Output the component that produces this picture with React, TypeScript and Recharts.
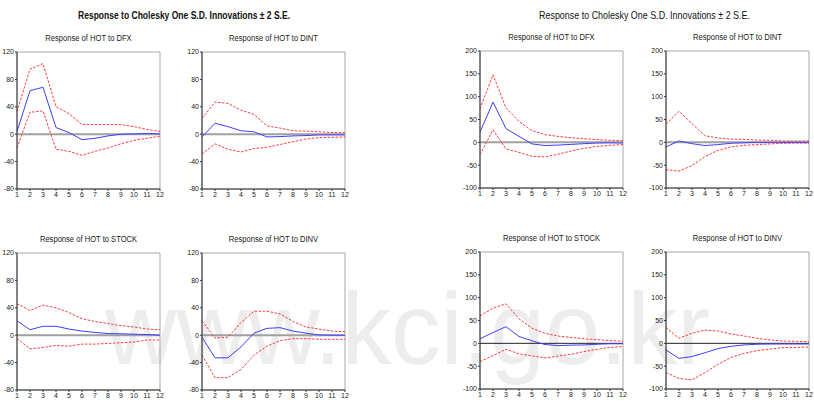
import { LineChart, Line, XAxis, YAxis, ReferenceLine, ReferenceArea } from 'recharts';

const periods = [1, 2, 3, 4, 5, 6, 7, 8, 9, 10, 11, 12];
const leftTicks = [-80, -40, 0, 40, 80, 120];
const rightTicks = [-100, -50, 0, 50, 100, 150, 200];

const mainTitle = 'Response to Cholesky One S.D. Innovations \u00b1 2 S.E.';

// left block
const leftDfx = [4, 63.6, 68.5, 9.7, 2.4, -8, -6, -2.5, 0, 0.5, 1, 0.5];
const leftDfxUpper = [33, 95, 103, 40, 30, 14, 14, 14, 14, 11, 7, 4];
const leftDfxLower = [-20, 32, 34, -22, -25, -31, -25, -20, -14, -9, -6, -3];

const leftDint = [-4, 16, 11, 5, 3.5, -4, -3.5, -2.5, -2, -1, -1, -1];
const leftDintUpper = [23, 47, 45, 35, 29, 12, 9, 5, 4.5, 3.5, 2.5, 2];
const leftDintLower = [-29, -14, -22, -26, -21, -19, -15, -11, -7, -5, -4.5, -4];

const leftStock = [21, 8, 13, 13, 9, 6, 4, 2.5, 2, 1.5, 1, 0];
const leftStockUpper = [46, 36, 44, 40, 33, 24, 20, 17, 14, 12, 9, 8];
const leftStockLower = [-5, -20, -18, -15, -16, -13, -13, -12, -11, -10, -7, -7];

const leftDinv = [-3, -33, -33, -17, 3, 10, 11, 6, 3, 0.5, 0, 0];
const leftDinvUpper = [21, -4, -3, 18.5, 35, 35, 31, 20, 12, 9, 6, 5];
const leftDinvLower = [-29, -62, -62, -50, -29, -16, -8, -5, -5, -6, -6, -6];

// right block
const rightDfx = [22.5, 88, 30, 13, -3.5, -7, -6, -4.5, -3, -1.5, -1, -1.5];
const rightDfxUpper = [73.5, 148, 75, 46, 25.5, 17, 13, 10, 8, 6, 4.5, 3.5];
const rightDfxLower = [-27, 27.5, -14.5, -22, -30.5, -32, -26, -19, -13, -9, -6.5, -5];

const rightDint = [-10, 3, -3, -7, -5, -2, -1, 0, 0, 0, 0, 0];
const rightDintUpper = [40, 68, 41, 14.5, 9.5, 7, 6.5, 5, 4.5, 3, 3, 3];
const rightDintLower = [-60, -63, -51, -31, -17.5, -10, -6.5, -5, -3.5, -2, -1.5, -1.5];

const rightStock = [10, 23.5, 36.5, 15, 5.5, -2.5, -5, -4, -3.5, -2, -1, -1];
const rightStockUpper = [60, 77, 86.5, 54, 33, 22, 16, 13, 10, 8, 6, 4.5];
const rightStockLower = [-40, -27, -13, -23, -27.5, -32, -28, -24, -18, -13, -9, -7];

const rightDinv = [-14.5, -33, -29, -20.5, -11.5, -6.5, -3.5, -2, -1.5, -1.5, -1.5, -1.5];
const rightDinvUpper = [34.5, 11, 22, 29, 27, 20.5, 16, 11, 7.5, 5, 4.5, 3.5];
const rightDinvLower = [-64, -77, -80, -64, -46, -31, -22, -16, -12.5, -9.5, -9, -8];

const PLOT_W = 143;
const PLOT_H = 137;
const ML = 30;
const MT = 6;
const MR = 6;
const MB = 16;

interface PanelProps {
  x: number;
  y: number;
  title: string;
  ticks: number[];
  mid: number[];
  upper: number[];
  lower: number[];
  darkZero?: boolean;
}

function Panel({ x, y, ticks, mid, upper, lower, darkZero }: PanelProps) {
  const data = periods.map((p, i) => ({ p, mid: mid[i], up: upper[i], lo: lower[i] }));
  const yMin = ticks[0];
  const yMax = ticks[ticks.length - 1];
  return (
    <div style={{ position: 'absolute', left: x - ML, top: y - MT }}>
      <LineChart width={ML + PLOT_W + MR} height={MT + PLOT_H + MB} data={data} margin={{ top: MT, right: MR, bottom: 0, left: 0 }}>
        <ReferenceArea x1={1} x2={12} y1={yMin} y2={yMax} fill="none" stroke="#a8a8a8" strokeWidth={1} />
        <XAxis
          dataKey="p"
          type="number"
          domain={[1, 12]}
          ticks={periods}
          interval={0}
          height={MB}
          tick={{ fontSize: 7, fill: '#222' }}
          tickSize={2}
          tickMargin={1}
          axisLine={{ stroke: '#333' }}
          tickLine={{ stroke: '#333' }}
        />
        <YAxis
          type="number"
          domain={[yMin, yMax]}
          ticks={ticks}
          interval={0}
          width={ML}
          tick={{ fontSize: 7, fill: '#222' }}
          tickSize={2}
          tickMargin={1}
          axisLine={{ stroke: '#333' }}
          tickLine={{ stroke: '#333' }}
        />
        <ReferenceLine y={0} stroke={darkZero ? '#222' : '#a0a0a0'} strokeWidth={darkZero ? 1 : 2} />
        <Line dataKey="up" stroke="#ff3b3b" strokeWidth={1} strokeDasharray="2.5 1.5" dot={false} isAnimationActive={false} />
        <Line dataKey="lo" stroke="#ff3b3b" strokeWidth={1} strokeDasharray="2.5 1.5" dot={false} isAnimationActive={false} />
        <Line dataKey="mid" stroke="#4040ff" strokeWidth={1} dot={false} isAnimationActive={false} />
      </LineChart>
    </div>
  );
}

const panels: PanelProps[] = [
  { x: 17, y: 52, title: 'Response of HOT to DFX', ticks: leftTicks, mid: leftDfx, upper: leftDfxUpper, lower: leftDfxLower },
  { x: 202, y: 52, title: 'Response of HOT to DINT', ticks: leftTicks, mid: leftDint, upper: leftDintUpper, lower: leftDintLower },
  { x: 17, y: 253, title: 'Response of HOT to STOCK', ticks: leftTicks, mid: leftStock, upper: leftStockUpper, lower: leftStockLower },
  { x: 202, y: 253, title: 'Response of HOT to DINV', ticks: leftTicks, mid: leftDinv, upper: leftDinvUpper, lower: leftDinvLower },
  { x: 480, y: 51, title: 'Response of HOT to DFX', ticks: rightTicks, mid: rightDfx, upper: rightDfxUpper, lower: rightDfxLower },
  { x: 666, y: 51, title: 'Response of HOT to DINT', ticks: rightTicks, mid: rightDint, upper: rightDintUpper, lower: rightDintLower },
  { x: 480, y: 252, title: 'Response of HOT to STOCK', ticks: rightTicks, mid: rightStock, upper: rightStockUpper, lower: rightStockLower, darkZero: true },
  { x: 666, y: 252, title: 'Response of HOT to DINV', ticks: rightTicks, mid: rightDinv, upper: rightDinvUpper, lower: rightDinvLower, darkZero: true },
];

export default function App() {
  return (
    <div
      style={{
        position: 'absolute',
        left: 0,
        top: 0,
        width: 814,
        height: 403,
        background: '#fff',
        overflow: 'hidden',
        fontFamily: '"Liberation Sans", Arial, sans-serif',
      }}
    >
      <svg width={814} height={403} style={{ position: 'absolute', left: 0, top: 0 }}>
        {/* faint site watermark from the source image */}
        <text x={105} y={364} fontSize={102} fill="#ededed" textLength={605} lengthAdjust="spacingAndGlyphs">
          www.kci.go.kr
        </text>
        <text x={78} y={19} fontSize={10.5} fontWeight="bold" fill="#111" textLength={212} lengthAdjust="spacingAndGlyphs">
          {mainTitle}
        </text>
        <text x={539} y={19} fontSize={10.5} fill="#111" textLength={211} lengthAdjust="spacingAndGlyphs">
          {mainTitle}
        </text>
        {panels.map((p, i) => (
          <text
            key={i}
            transform={`translate(${p.x + PLOT_W / 2}, ${p.y - 11}) scale(0.8, 1)`}
            textAnchor="middle"
            fontSize={9.5}
            fill="#222"
          >
            {p.title}
          </text>
        ))}
      </svg>
      {panels.map((p, i) => (
        <Panel key={i} {...p} />
      ))}
    </div>
  );
}
